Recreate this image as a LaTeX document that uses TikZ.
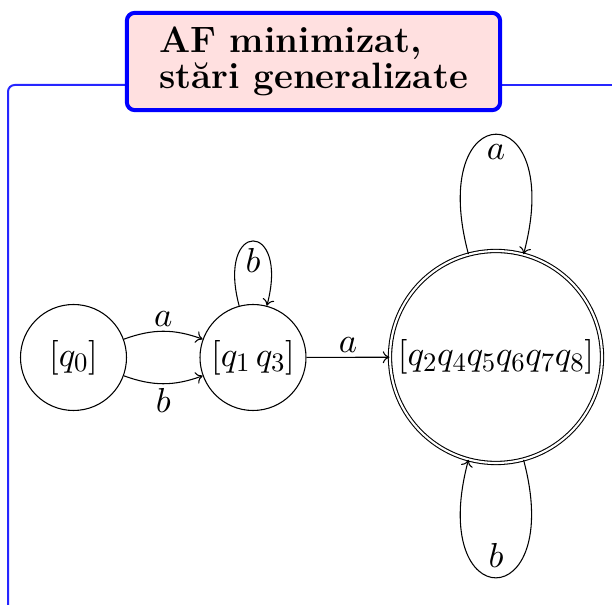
\documentclass[tikz,border=0pt]{standalone}
\usetikzlibrary{arrows.meta}
\DeclareFontFamily{OML}{cmm}{\skewchar\font'177}
\DeclareFontShape{OML}{cmm}{m}{it}{<->cmmi10}{}
\DeclareFontFamily{OT1}{cmr}{\hyphenchar\font45 }
\DeclareFontShape{OT1}{cmr}{m}{n}{<->cmr10}{}
\DeclareMathSizes{26}{26}{20}{16}
\begin{document}
\begin{tikzpicture}[x=0.75pt,y=-0.75pt,
  state/.style={circle,draw,line width=0.8pt,minimum size=79.5pt,inner sep=0pt,font=\fontsize{26}{30}\selectfont},
  accst/.style={state,double,double distance=1.6pt,minimum size=159pt},
  edge/.style={line width=0.8pt,-{To[length=5pt,width=9pt]}},
  lbl/.style={font=\fontsize{26}{30}\selectfont},
  titlebox/.style={draw=blue,line width=3pt,rounded corners=6pt,fill=red!12,
    minimum width=280pt,minimum height=73pt,align=left,inner sep=0pt,
    font=\fontsize{27.5}{27.5}\selectfont\bfseries},
  framel/.style={draw=blue!85,line width=1.5pt,rounded corners=5pt}]
\useasboundingbox (0,0) rectangle (612,605);
\draw[framel] (8,605) -- (8,85) -- (125,85);
\draw[framel] (502,85) -- (612,85);
\node[titlebox] (title) at (313.5,61.5) {AF minimizat,\\stări generalizate};

\node[state] (q0) at (73.5,357.5) {$[q_0]$};
\node[state] (q1) at (253,357.5) {$[q_1\,q_3]$};
\node[accst] (f) at (496,357) {$[q_2q_4q_5q_6q_7q_8]$};

\draw[edge] (q0.20) to[bend left=20] node[lbl,above] {$a$} (q1.160);
\draw[edge] (q0.-20) to[bend right=20] node[lbl,below] {$b$} (q1.200);
\draw[edge] (q1) -- node[lbl,above] {$a$} (f);
\draw[edge] (q1.105) to[out=105,in=75,distance=67pt] node[lbl,below,yshift=-2pt] {$b$} (q1.75);
\draw[edge] (f.105) to[out=105,in=75,distance=124pt] node[lbl,below,yshift=-4pt] {$a$} (f.75);
\draw[edge] (f.-75) to[out=-75,in=-105,distance=122pt] node[lbl,above,yshift=4pt] {$b$} (f.-105);
\end{tikzpicture}
\end{document}
